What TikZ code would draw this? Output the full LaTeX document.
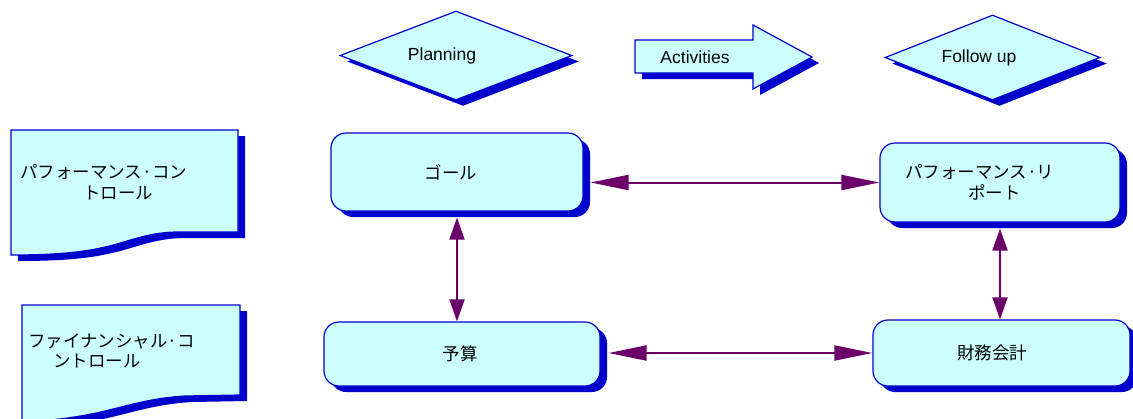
\documentclass[tikz,border=0pt]{standalone}
\usepackage{fontspec}
\setmainfont{Liberation Sans}
\newfontfamily\jp{Noto Sans CJK JP}
\usetikzlibrary{shapes.geometric,shadows,arrows.meta}
\definecolor{edgeblue}{HTML}{0000CC}
\definecolor{paleaqua}{HTML}{CCFFFF}
\definecolor{linkpurple}{HTML}{6B006B}

\begin{document}
\begin{tikzpicture}[x=1pt,y=-1pt,
  solid shadow/.style={drop shadow={shadow xshift=7pt,shadow yshift=-6pt,opacity=1,fill=edgeblue}},
  shape base/.style={draw=edgeblue,line width=1.2pt,fill=paleaqua,solid shadow},
  box/.style={shape base,rectangle,rounded corners=15pt,inner sep=0pt,
    font=\jp\fontsize{17.5}{20.5}\selectfont},
  phase/.style={shape base,diamond,inner sep=0pt,font=\fontsize{17.5}{21}\selectfont},
  jptext/.style={inner sep=0pt,align=left,font=\jp\fontsize{17.5}{20.5}\selectfont},
  link/.style={linkpurple,line width=2pt,
    {Triangle[length=38pt,width=15pt]}-{Triangle[length=38pt,width=15pt]}},
  vlink/.style={linkpurple,line width=2pt,
    {Triangle[length=22pt,width=15pt]}-{Triangle[length=22pt,width=15pt]}}
]
\useasboundingbox (0,0) rectangle (1133,418);
\clip (0,0) rectangle (1133,418);

% column headings
\node[phase,aspect=2.6,minimum width=232pt,minimum height=89pt] (planning) at (456,55.5)
  {Planning\hspace*{28pt}};
\path[shape base] (635,40) -- (753,40) -- (753,25) -- (812,57) -- (753,89)
  -- (753,73) -- (635,73) -- cycle;
\node[inner sep=0pt,font=\fontsize{17.5}{21}\selectfont] (activities) at (695,57) {Activities};
\node[phase,aspect=2.53,minimum width=215pt,minimum height=85pt] (followup) at (992.5,57.5)
  {Follow up\hspace*{27pt}};

% row headings (document shapes)
\path[shape base] (11,130) -- (238,130) -- (238,232) -- (175,232)
  .. controls (145,233) and (128,242) .. (105,247)
  .. controls (80,253) and (50,255) .. (11,255) -- cycle;
\node[jptext,text width=170pt,anchor=west] (perfctl) at (20,182)
  {パフォーマンス·コン\\\hspace*{63pt}トロール};

\path[shape base] (22,305) -- (240,305) -- (240,395) -- (185,396)
  .. controls (152,398) and (130,405) .. (105,411)
  .. controls (80,417) and (50,421) .. (22,422) -- cycle;
\node[jptext,text width=170pt,anchor=west] (finctl) at (28,351)
  {ファイナンシャル·コ\\\hspace*{25pt}ントロール};

% process boxes
\node[box,minimum width=252pt,minimum height=78pt] (goal) at (457,172)
  {ゴール\hspace*{12pt}};
\node[box,minimum width=240pt,minimum height=79pt,text width=190pt,align=left]
  (perf) at (1000,182.5) {パフォーマンス·リ\\\hspace*{63pt}ポート};
\node[box,minimum width=276pt,minimum height=64pt] (budget) at (462,354)
  {予算\hspace*{4pt}};
\node[box,minimum width=257pt,minimum height=66pt] (acct) at (1001.5,353)
  {財務会計\hspace*{19pt}};

% connectors
\draw[link] ([xshift=7pt]goal.east |- perf.west) -- (perf.west);
\draw[link] ([xshift=8pt]budget.east |- acct.west) -- (acct.west);
\draw[vlink] ([yshift=-6pt]goal.south) -- (goal.south |- budget.north);
\draw[vlink] ([yshift=-6pt]perf.south) -- (perf.south |- acct.north);
\end{tikzpicture}
\end{document}
